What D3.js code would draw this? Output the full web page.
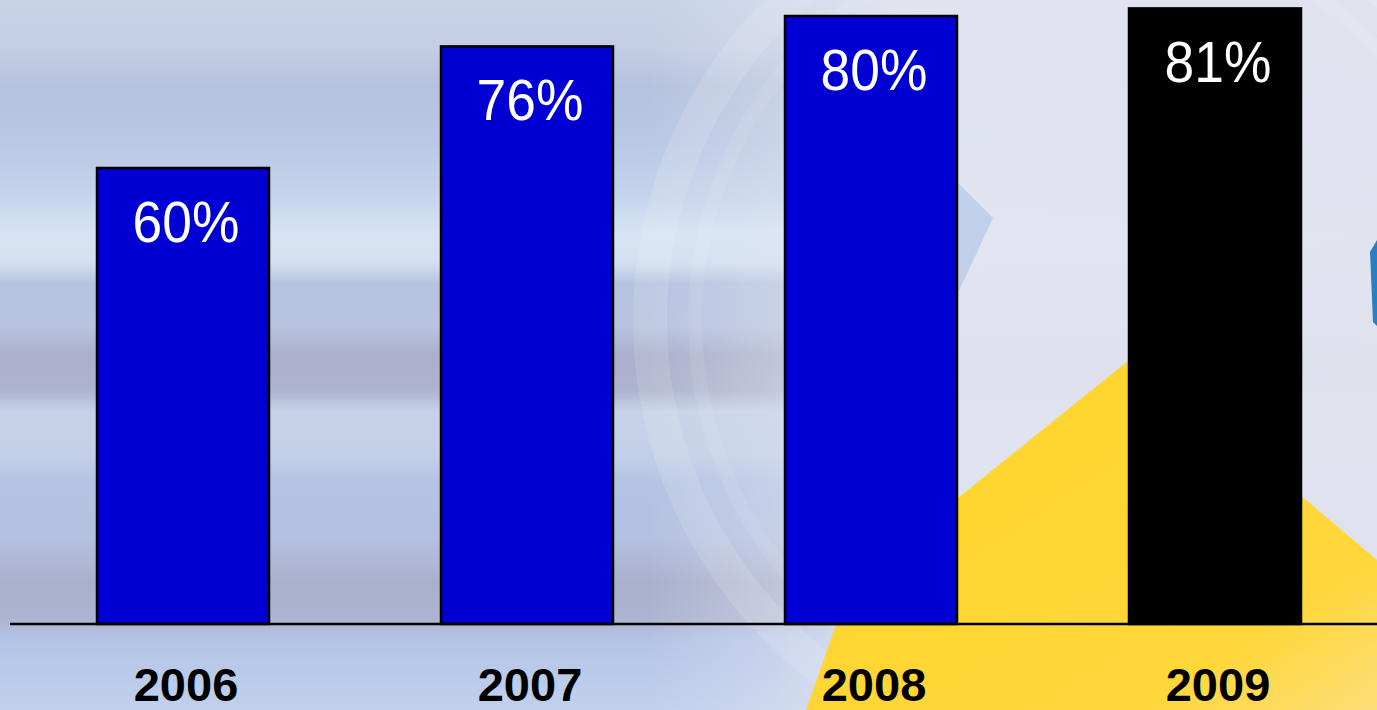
<!DOCTYPE html>
<html>
<head>
<meta charset="utf-8">
<script src="https://cdn.jsdelivr.net/npm/d3@7"></script>
<style>
  html, body { margin: 0; padding: 0; overflow: hidden; background: #c3cfe6; }
  svg { display: block; }
</style>
</head>
<body>
<svg id="chart" width="1377" height="710"></svg>
<script>
// ---- data ----
const years = ["2006", "2007", "2008", "2009"];
const values = [60, 76, 80, 81];
const labels = ["60%", "76%", "80%", "81%"];
const highlight = ["2009"];

const W = 1377, H = 710;
const svg = d3.select("#chart");
const defs = svg.append("defs");

// ---- background ----
const vg = defs.append("linearGradient").attr("id", "bgV")
  .attr("x1", 0).attr("y1", 0).attr("x2", 0).attr("y2", 1);
[
  [0.00, "#c8d3e8"], [0.07, "#c3cde4"], [0.12, "#b5c2dd"], [0.20, "#b9c8e4"],
  [0.28, "#c6d5ec"], [0.33, "#d6e4f4"], [0.37, "#d3e0f1"], [0.40, "#b6c3e0"],
  [0.46, "#b7c3df"], [0.50, "#aab0cc"], [0.55, "#aeb4cf"], [0.58, "#c5d2e8"],
  [0.64, "#c3d0e7"], [0.68, "#b4c3e3"], [0.76, "#b3c0df"], [0.82, "#aab0cc"],
  [0.87, "#adb4d0"], [0.90, "#b4c4e6"], [1.00, "#c0d0ec"]
].forEach(s => vg.append("stop").attr("offset", s[0]).attr("stop-color", s[1]));

const hg = defs.append("linearGradient").attr("id", "bgH")
  .attr("x1", 0).attr("y1", 0).attr("x2", 1).attr("y2", 0);
hg.append("stop").attr("offset", 0.47).attr("stop-color", "#e6e8f3").attr("stop-opacity", 0);
hg.append("stop").attr("offset", 0.56).attr("stop-color", "#e6e8f3").attr("stop-opacity", 0.35);
hg.append("stop").attr("offset", 0.66).attr("stop-color", "#e4e6f1").attr("stop-opacity", 0.9);
hg.append("stop").attr("offset", 1.0).attr("stop-color", "#e2e4ef").attr("stop-opacity", 0.95);

const yg = defs.append("linearGradient").attr("id", "yel")
  .attr("x1", 0.3).attr("y1", 0.3).attr("x2", 1).attr("y2", 1);
yg.append("stop").attr("offset", 0).attr("stop-color", "#ffd52e");
yg.append("stop").attr("offset", 0.7).attr("stop-color", "#ffd73a");
yg.append("stop").attr("offset", 1).attr("stop-color", "#fedd78");

svg.append("rect").attr("width", W).attr("height", H).attr("fill", "url(#bgV)");
svg.append("rect").attr("width", W).attr("height", H).attr("fill", "url(#bgH)");

// decorative arcs
svg.append("circle").attr("cx", 1090).attr("cy", 320).attr("r", 440)
  .attr("fill", "none").attr("stroke", "#ffffff").attr("stroke-opacity", 0.12).attr("stroke-width", 34);
svg.append("circle").attr("cx", 1090).attr("cy", 320).attr("r", 395)
  .attr("fill", "none").attr("stroke", "#ffffff").attr("stroke-opacity", 0.08).attr("stroke-width", 14);

// blue chevron slivers
svg.append("path").attr("d", "M950,175 L993,218 L950,310 Z").attr("fill", "#b9cbe9").attr("fill-opacity", 0.8);
svg.append("path").attr("d", "M1377,240 L1370,252 L1373,322 L1377,326 Z").attr("fill", "#2a7fc0");

// yellow shape
svg.append("path")
  .attr("d", "M806,710 L850,585 L1160,335 L1280,478 L1377,560 L1377,710 Z")
  .attr("fill", "url(#yel)");

// ---- scales ----
const x = d3.scaleBand().domain(years).range([-75, 1473]).paddingInner(0.5).paddingOuter(0.5);
const y = d3.scaleLinear().domain([0, 100]).range([624, -136]);

// ---- bars ----
svg.append("g").selectAll("rect").data(years).join("rect")
  .attr("x", d => x(d))
  .attr("y", (d, i) => y(values[i]))
  .attr("width", x.bandwidth())
  .attr("height", (d, i) => y(0) - y(values[i]))
  .attr("fill", d => highlight.includes(d) ? "#000000" : "#0000d2")
  .attr("stroke", "#000")
  .attr("stroke-width", 2.5);

// value labels
svg.append("g").selectAll("text").data(years).join("text")
  .attr("transform", (d, i) => `translate(${x(d) + x.bandwidth() / 2 + 3},${y(values[i]) + 74}) scale(0.92,1)`)
  .attr("text-anchor", "middle")
  .attr("fill", "#ffffff")
  .style("font-family", "'Liberation Sans', Arial, sans-serif")
  .style("font-size", "58px")
  .text((d, i) => labels[i]);

// baseline
svg.append("line")
  .attr("x1", 10).attr("x2", W)
  .attr("y1", y(0)).attr("y2", y(0))
  .attr("stroke", "#000").attr("stroke-width", 2.5);

// category axis labels
const ax = svg.append("g").attr("transform", `translate(0,${y(0)})`)
  .call(d3.axisBottom(x).tickSize(0).tickPadding(44));
ax.select(".domain").remove();
ax.selectAll("text")
  .attr("dx", 3)
  .attr("fill", "#000")
  .style("font-family", "'Liberation Sans', Arial, sans-serif")
  .style("font-weight", "bold")
  .style("font-size", "47px");
</script>
</body>
</html>
